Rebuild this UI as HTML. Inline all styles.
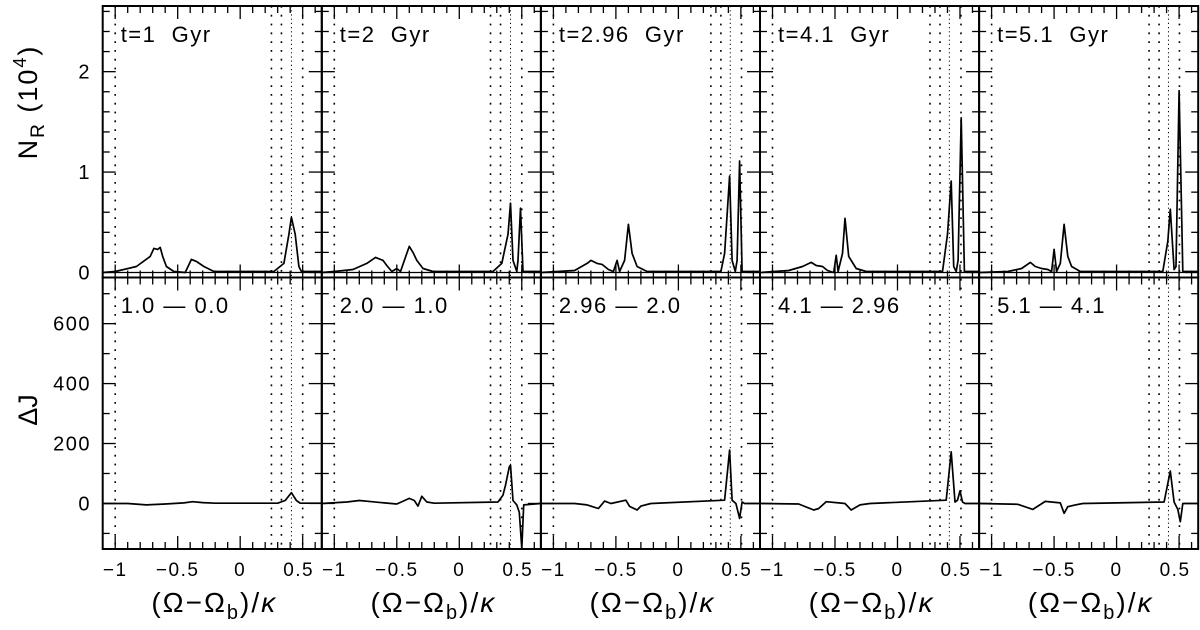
<!DOCTYPE html>
<html><head><meta charset="utf-8">
<style>
html,body{margin:0;padding:0;background:#fff;}
svg{display:block;font-family:"Liberation Sans",sans-serif;}
text{white-space:pre;}
</style></head>
<body>
<svg id="fig" width="1200" height="630" viewBox="0 0 1200 630" xmlns="http://www.w3.org/2000/svg">
<text transform="translate(37,102) rotate(-90)" text-anchor="middle" font-size="27" letter-spacing="2">N<tspan font-size="19" dy="7">R</tspan><tspan dy="-7"> (10</tspan><tspan font-size="18" dy="-11">4</tspan><tspan dy="11">)</tspan></text>
<text transform="translate(37,410) rotate(-90)" text-anchor="middle" font-size="27">ΔJ</text>
</svg>
<script>
// ---- data ----
const panelTitles = ["t=1  Gyr","t=2  Gyr","t=2.96  Gyr","t=4.1  Gyr","t=5.1  Gyr"];
const diffTitles = ["1.0 — 0.0","2.0 — 1.0","2.96 — 2.0","4.1 — 2.96","5.1 — 4.1"];
const xTickLabels = ["−1","−0.5","0","0.5"];
const xTickValues = [-1,-0.5,0,0.5];
const topTickValues = [0,1,2];
const topTickLabels = ["0","1","2"];
const botTickValues = [0,200,400,600];
const botTickLabels = ["0","200","400","600"];
const resonances = [
 [-1,0.25,0.33,0.41,0.5],[-1,0.25,0.33,0.41,0.5],[-1,0.26,0.34,0.415,0.505],
 [-1,0.26,0.34,0.415,0.508],[-1,0.26,0.34,0.415,0.503]];
// N_R curves: [x, y] pairs (units 10^4)
const nr1 = [[-1.1,0],[-1,0.01],[-0.83,0.06],[-0.72,0.16],[-0.69,0.24],[-0.66,0.23],[-0.64,0.25],[-0.62,0.16],[-0.59,0.06],[-0.53,0.01],[-0.44,0],[-0.39,0.13],[-0.35,0.11],[-0.29,0.06],[-0.21,0.01],[0.27,0.01],[0.35,0.09],[0.39,0.38],[0.41,0.55],[0.44,0.38],[0.47,0.06],[0.49,0.01],[0.65,0.01]];
const nr2 = [[-1.1,0],[-1,0.01],[-0.85,0.03],[-0.74,0.09],[-0.67,0.15],[-0.61,0.12],[-0.58,0.07],[-0.54,0.01],[-0.5,0.04],[-0.47,0.01],[-0.42,0.19],[-0.4,0.26],[-0.37,0.2],[-0.34,0.12],[-0.29,0.04],[-0.21,0.01],[0.27,0.01],[0.34,0.09],[0.39,0.38],[0.41,0.69],[0.43,0.12],[0.46,0.01],[0.47,0.12],[0.49,0.64],[0.51,0.01],[0.65,0.01]];
const nr3 = [[-1.1,0],[-0.83,0.02],[-0.73,0.09],[-0.7,0.12],[-0.65,0.09],[-0.61,0.08],[-0.56,0.03],[-0.52,0.01],[-0.49,0.12],[-0.47,0.01],[-0.43,0.12],[-0.4,0.48],[-0.37,0.19],[-0.33,0.06],[-0.25,0.01],[0.34,0.01],[0.37,0.19],[0.41,0.96],[0.43,0.12],[0.455,0.01],[0.47,0.12],[0.49,1.11],[0.51,0.01],[0.65,0.01]];
const nr4 = [[-1.1,0],[-0.87,0.02],[-0.76,0.06],[-0.69,0.1],[-0.65,0.07],[-0.6,0.06],[-0.56,0.02],[-0.51,0],[-0.49,0.17],[-0.475,0.01],[-0.44,0.19],[-0.42,0.54],[-0.39,0.16],[-0.33,0.04],[-0.25,0.01],[0.36,0.01],[0.4,0.38],[0.43,0.91],[0.45,0.06],[0.47,0.01],[0.485,0.12],[0.51,1.54],[0.535,0.01],[0.65,0.01]];
const nr5 = [[-1.1,0],[-0.87,0.01],[-0.76,0.04],[-0.69,0.1],[-0.65,0.06],[-0.6,0.04],[-0.55,0.03],[-0.52,0.01],[-0.5,0.23],[-0.48,0.01],[-0.45,0.09],[-0.42,0.48],[-0.39,0.16],[-0.36,0.06],[-0.29,0.01],[0.37,0.01],[0.41,0.31],[0.43,0.63],[0.46,0.03],[0.475,0.06],[0.5,1.81],[0.53,0.01],[0.65,0.01]];
// Delta J curves
const dj1 = [[-1.1,0],[-0.9,0],[-0.75,-5],[-0.6,-2],[-0.45,2],[-0.38,6],[-0.3,3],[-0.2,1],[0.3,1],[0.36,10],[0.41,36],[0.45,10],[0.48,1],[0.65,1]];
const dj2 = [[-1.1,0],[-0.9,5],[-0.8,10],[-0.7,6],[-0.6,2],[-0.5,-2],[-0.4,17],[-0.36,10],[-0.33,-9],[-0.3,24],[-0.26,5],[-0.2,1],[0.31,5],[0.35,28],[0.37,61],[0.4,122],[0.41,128],[0.43,10],[0.46,-5],[0.48,-30],[0.5,-150],[0.515,-5],[0.65,0]];
const dj3 = [[-1.1,0],[-0.83,0],[-0.73,-5],[-0.64,-17],[-0.59,8],[-0.54,0],[-0.42,11],[-0.39,-10],[-0.33,-22],[-0.3,-9],[-0.22,0],[0.37,11],[0.41,178],[0.43,11],[0.46,0],[0.49,-50],[0.51,5],[0.53,0],[0.65,0]];
const dj4 = [[-1.1,0],[-0.79,-2],[-0.67,-22],[-0.63,-17],[-0.57,6],[-0.42,0],[-0.37,-22],[-0.3,-5],[-0.22,0],[0.39,11],[0.43,172],[0.46,5],[0.48,11],[0.5,42],[0.52,5],[0.54,0],[0.65,0]];
const dj5 = [[-1.1,0],[-0.79,-3],[-0.67,-20],[-0.57,7],[-0.45,2],[-0.42,-33],[-0.39,-11],[-0.33,-5],[-0.27,0],[0.38,5],[0.43,108],[0.46,5],[0.49,-20],[0.51,-61],[0.53,0],[0.65,0]];
const nrSeries = [nr1,nr2,nr3,nr4,nr5];
const djSeries = [dj1,dj2,dj3,dj4,dj5];

// ---- layout ----
const NS="http://www.w3.org/2000/svg";
const svg=document.getElementById('fig');
const PL=102.7, PW=219.1, TOP=6, MID=277.5, BOT=549;
const XMIN=-1.1, XMAX=0.653;
const TYMIN=-0.05, TYMAX=2.654;
const BYMIN=-152, BYMAX=754;
function xs(i,v){return PL+i*PW+(v-XMIN)/(XMAX-XMIN)*PW;}
function yt(v){return MID-(v-TYMIN)/(TYMAX-TYMIN)*(MID-TOP);}
function yb(v){return BOT-(v-BYMIN)/(BYMAX-BYMIN)*(BOT-MID);}
function mk(tag,attrs,parent){const e=document.createElementNS(NS,tag);for(const k in attrs)e.setAttribute(k,attrs[k]);(parent||svg).appendChild(e);return e;}
function line(x1,y1,x2,y2,sw,g,dash){const l=mk('line',{x1:x1,y1:y1,x2:x2,y2:y2,stroke:'#000','stroke-width':sw},g);if(dash)l.setAttribute('stroke-dasharray',dash);return l;}

for(let i=0;i<5;i++){
  const g=mk('g',{});
  
  
  const x0=PL+i*PW, x1=x0+PW;
  resonances[i].forEach((r,k)=>{
    const rl=line(xs(i,r),TOP,xs(i,r),BOT,k===3?1:1.6,g,k===3?'1.2 3':'1.8 7');
    
    
  });
  for(let t=-11;t<=6;t++){
    const v=t/10, X=xs(i,v); if(X<x0+1||X>x1-1)continue;
    const major=(t%5===0), L=major?13:7;
    [[TOP,1],[MID,-1],[MID,1],[BOT,-1]].forEach(([yy,d])=>line(X,yy,X,yy+d*L,1.3,g));
  }
  for(let t=0;t<=13;t++){const v=t*0.2,Y=yt(v);const major=(t%5===0),L=major?13:7;line(x0,Y,x0+L,Y,1.3,g);line(x1,Y,x1-L,Y,1.3,g);}
  for(let t=-1;t<=7;t++){const v=t*100,Y=yb(v);const major=(t%2===0),L=major?13:7;line(x0,Y,x0+L,Y,1.3,g);line(x1,Y,x1-L,Y,1.3,g);}
  const zl=line(x0,yt(0),x1,yt(0),1.3,g); 
  const p1=mk('polyline',{points:nrSeries[i].map(p=>xs(i,p[0]).toFixed(1)+','+yt(p[1]).toFixed(1)).join(' '),fill:'none',stroke:'#000','stroke-width':1.7,'stroke-linejoin':'round'},g);
  
  
  const cp=mk('clipPath',{id:'cb'+i},g); mk('rect',{x:x0,y:MID,width:PW,height:BOT-MID},cp);
  const p2=mk('polyline',{points:djSeries[i].map(p=>xs(i,p[0]).toFixed(1)+','+yb(p[1]).toFixed(1)).join(' '),fill:'none',stroke:'#000','stroke-width':1.7,'stroke-linejoin':'round','clip-path':'url(#cb'+i+')'},g);
  
  
  const f1=mk('rect',{x:x0,y:TOP,width:PW,height:MID-TOP,fill:'none',stroke:'#000','stroke-width':2},g);
  
  const f2=mk('rect',{x:x0,y:MID,width:PW,height:BOT-MID,fill:'none',stroke:'#000','stroke-width':2},g);
  
  const t1=mk('text',{x:x0+18,y:42,'font-size':22,'letter-spacing':1.5},g);t1.textContent=panelTitles[i];
  
  const t2=mk('text',{x:x0+18,y:313,'font-size':22,'letter-spacing':1.5},g);t2.textContent=diffTitles[i];
  
  xTickValues.forEach((v,k)=>{
    const tl=mk('text',{x:xs(i,v)+(v===0.5?-4:0),y:576,'font-size':19,'text-anchor':'middle','letter-spacing':1.5},g);tl.textContent=xTickLabels[k];
    
  });
  const xt=mk('text',{x:x0+PW/2+2,y:612,'font-size':28,'text-anchor':'middle','letter-spacing':2},g);
  xt.innerHTML='(Ω−Ω<tspan font-size="20" dy="7">b</tspan><tspan dy="-7">)/</tspan><tspan font-style="italic">κ</tspan>';
  
}
topTickValues.forEach((v,k)=>{const t=mk('text',{x:91,y:yt(v)+7,'font-size':20,'text-anchor':'end','letter-spacing':1.5});t.textContent=topTickLabels[k];
  });
botTickValues.forEach((v,k)=>{const t=mk('text',{x:91,y:yb(v)+7,'font-size':20,'text-anchor':'end','letter-spacing':1.5});t.textContent=botTickLabels[k];
  });
</script>
</body></html>
